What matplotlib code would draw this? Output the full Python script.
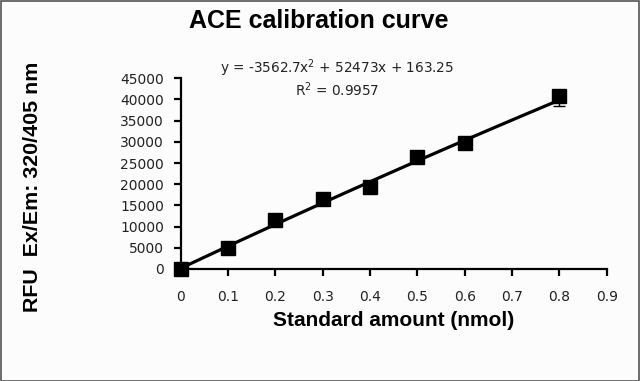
import matplotlib.pyplot as plt
import numpy as np
from matplotlib.patches import Rectangle

# standard amounts (nmol) and fluorescence readings
amount = [0, 0.1, 0.2, 0.3, 0.4, 0.5, 0.6, 0.8]
rfu = [0, 4900, 11550, 16600, 19250, 26350, 29650, 40800]
err_low = [0, 0, 0, 0, 0, 0, 0, 2400]
err_high = [0, 0, 0, 0, 0, 0, 0, 1000]

# excel trendline coefficients, as printed on the chart
coef = [-3562.7, 52473, 163.25]

xticks = [0, 0.1, 0.2, 0.3, 0.4, 0.5, 0.6, 0.7, 0.8, 0.9]
xtick_labels = ['0', '0.1', '0.2', '0.3', '0.4', '0.5', '0.6', '0.7', '0.8', '0.9']
yticks = [0, 5000, 10000, 15000, 20000, 25000, 30000, 35000, 40000, 45000]

fig = plt.figure(figsize=(6.4, 3.81), dpi=100, facecolor='#fcfcfc')
ax = fig.add_axes([0.2823, 0.294, 0.6657, 0.5005])
ax.set_facecolor('#fcfcfc')

xx = np.linspace(0, 0.8, 100)
ax.plot(xx, np.polyval(coef, xx), color='black', lw=2.3, zorder=2)
ax.errorbar(amount, rfu, yerr=[err_low, err_high], fmt='s', color='black', ms=9.5,
            elinewidth=1, capsize=4, capthick=1, clip_on=False, zorder=3)

ax.set_xlim(0, 0.9)
ax.set_ylim(0, 45000)
ax.set_xticks(xticks)
ax.set_xticklabels(xtick_labels)
ax.set_yticks(yticks)
for s in ['top', 'right']:
    ax.spines[s].set_visible(False)
for s in ['left', 'bottom']:
    ax.spines[s].set_linewidth(1.6)
ax.tick_params(axis='both', direction='out', length=5, width=1.6,
               labelsize=10, colors='black')
ax.tick_params(axis='x', pad=10)
ax.tick_params(axis='y', pad=7)
for lab in ax.get_xticklabels() + ax.get_yticklabels():
    lab.set_fontfamily('DejaVu Sans')
    lab.set_color('#222222')

ax.set_xlabel('Standard amount (nmol)', fontsize=15, fontweight='bold',
              fontfamily='Liberation Sans', labelpad=5)
fig.text(0.051, 0.509, 'RFU  Ex/Em: 320/405 nm', rotation=90, fontsize=15.4,
         fontweight='bold', fontfamily='Liberation Sans', ha='center', va='center')
fig.text(0.498, 0.944, 'ACE calibration curve', fontsize=18, fontweight='bold',
         fontfamily='Liberation Sans', ha='center', va='center')

fig.text(0.527, 0.821, 'y = -3562.7x$^2$ + 52473x + 163.25', fontsize=9.8,
         fontfamily='DejaVu Sans', ha='center', va='center', color='#222222')
fig.text(0.527, 0.764, 'R$^2$ = 0.9957', fontsize=9.8,
         fontfamily='DejaVu Sans', ha='center', va='center', color='#222222')

fig.patches.append(Rectangle((0.001, 0.001), 0.998, 0.997, transform=fig.transFigure,
                             fill=False, edgecolor='#555555', lw=1.2))

fig.savefig('out.png', dpi=100, facecolor=fig.get_facecolor())
